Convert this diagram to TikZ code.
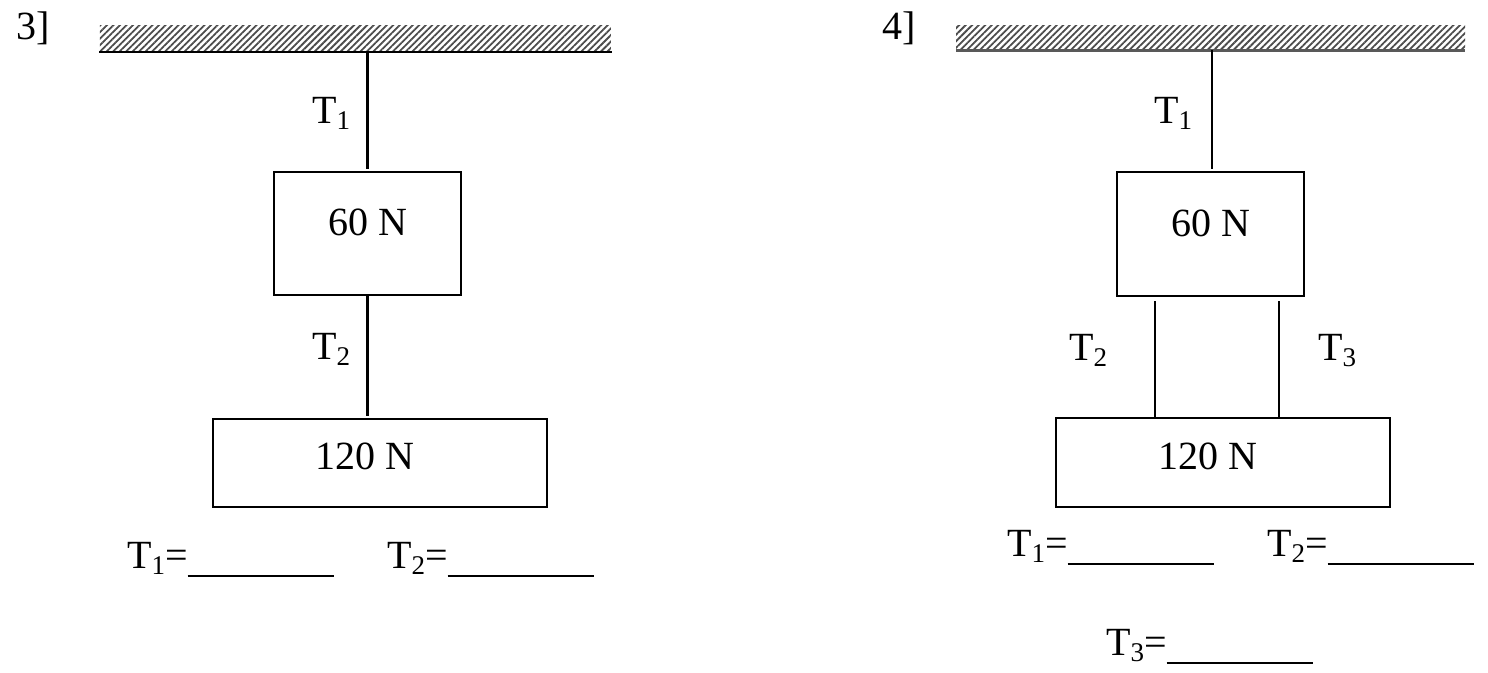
\documentclass[tikz,border=0pt]{standalone}
\usepackage{fontspec}
\setmainfont{Liberation Serif}
\usetikzlibrary{patterns.meta}
\tikzstyle{every block} = []
\tikzstyle{block} = [rectangle, draw, black, line width=2.5pt, inner sep=0pt, outer sep=0pt, every block]
\tikzstyle{ceiling} = [rectangle, inner sep=0pt, minimum height=25pt, fill=gray!30,
                       pattern={Lines[angle=45,distance=4.6pt,line width=1.8pt]}, pattern color=black!70]
\tikzstyle{rope} = [line width=2.5pt]
\tikzstyle{tlabel} = [inner sep=0pt, anchor=base west]
\newcommand{\tsub}[1]{\raisebox{-6pt}{\fontsize{27}{30}\selectfont #1}}
\newcommand{\blank}{\rule[-9pt]{146pt}{2.2pt}}

\begin{document}
\begin{tikzpicture}[x=1pt, y=-1pt,
every node/.style={font=\fontsize{40}{48}\selectfont},
]
\useasboundingbox (0,0) rectangle (1488,672);
% problem 3
\node[tlabel] (n3) at (16,39) {3]};
\node[ceiling, minimum width=511pt, anchor=north west] (ceilL) at (99,25) {};
\draw[line width=2.5pt] (ceilL.south west) -- (ceilL.south east);
\node[block, minimum width=187pt, text height=63pt, text depth=60pt, anchor=north] (topL) at (367.5,172) {60 N};
\node[block, minimum width=334pt, text height=50pt, text depth=38pt, anchor=north] (botL) at (380,419) {120 N\kern30pt};
\draw[rope, shorten >=3pt] (ceilL.south -| topL.north) -- (topL.north);
\draw[rope, shorten >=3pt] (topL.south) -- (topL.south |- botL.north);
\node[tlabel] (lt1) at (312,123) {T\tsub{1}};
\node[tlabel] (lt2) at (312,359) {T\tsub{2}};
\node[tlabel] (la1) at (127,568) {T\tsub{1}=\blank};
\node[tlabel] (la2) at (387,568) {T\tsub{2}=\blank};

% problem 4
\node[tlabel] (n4) at (882,39) {4]};
\node[ceiling, minimum width=509pt, anchor=north west] (ceilR) at (956,25) {};
\draw[line width=3pt, black!65] (ceilR.south west) -- (ceilR.south east);
\node[block, minimum width=187pt, text height=64pt, text depth=60pt, anchor=north] (topR) at (1210.5,172) {60 N};
\node[block, minimum width=334pt, text height=51pt, text depth=38pt, anchor=north] (botR) at (1223,418) {120 N\kern30pt};
\coordinate (r1) at (1212,50);
\coordinate (r2) at (1155,301);
\coordinate (r3) at (1279,301);
\draw[rope, shorten >=3pt] (r1) -- (r1 |- topR.north);
\draw[rope] (r2) -- (r2 |- botR.north);
\draw[rope] (r3) -- (r3 |- botR.north);
\node[tlabel] (rt1) at (1154,123) {T\tsub{1}};
\node[tlabel] (rt2) at (1069,360) {T\tsub{2}};
\node[tlabel] (rt3) at (1318,360) {T\tsub{3}};
\node[tlabel] (ra1) at (1007,556) {T\tsub{1}=\blank};
\node[tlabel] (ra2) at (1267,556) {T\tsub{2}=\blank};
\node[tlabel] (ra3) at (1106,655) {T\tsub{3}=\blank};
\end{tikzpicture}
\end{document}
